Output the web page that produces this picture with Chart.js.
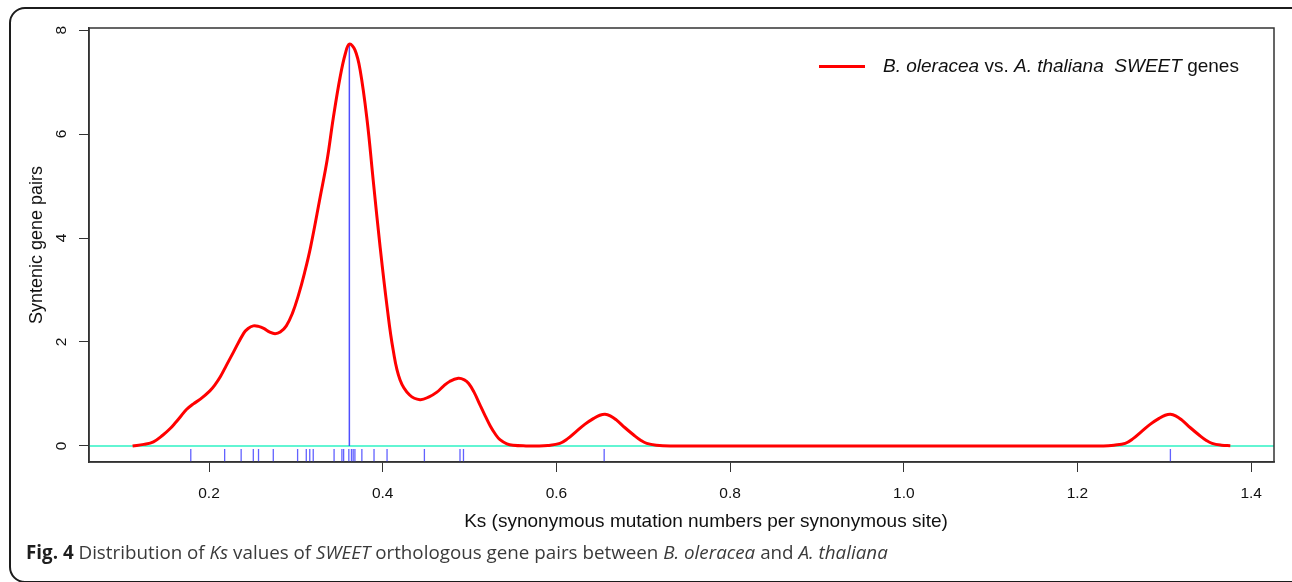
<!DOCTYPE html>
<html>
<head>
<meta charset="utf-8">
<script src="https://cdn.jsdelivr.net/npm/chart.js@4.4.1/dist/chart.umd.min.js"></script>
<style>
	body { margin: 0; background: #fff; }
	#wrap { position: relative; width: 1292px; height: 582px; overflow: hidden; }
	#data-set { position: absolute; left: 0; top: 0; }
	.frame { position: absolute; left: 9px; top: 7px; width: 1300px; height: 572px; border: 2px solid #1c1c1c; border-radius: 16px; pointer-events: none; }
	.xtitle { position: absolute; left: 706px; top: 510px; transform: translateX(-50%); font: 19px "Liberation Sans", Arial, sans-serif; line-height: 22px; color: #111; white-space: nowrap; }
	.legend-line { position: absolute; left: 819px; top: 64.5px; width: 46px; height: 3px; background: #ff0000; }
	.legend-text { position: absolute; left: 883px; top: 55px; font: 19px "Liberation Sans", Arial, sans-serif; line-height: 22px; color: #111; white-space: nowrap; }
	.caption { position: absolute; left: 26px; top: 540px; font: 18.8px "Open Sans", sans-serif; line-height: 24px; color: #3a3a3a; white-space: nowrap; }
	.caption b { color: #1e1e1e; }
</style>
</head>
<body>
<div id="wrap">
	<canvas id="data-set" width="1292" height="582"></canvas>
	<div class="frame"></div>
	<div class="legend-line"></div>
	<div class="legend-text"><i>B. oleracea</i> vs. <i>A. thaliana</i>&nbsp; <i>SWEET</i> genes</div>
	<div class="xtitle">Ks (synonymous mutation numbers per synonymous site)</div>
	<div class="caption"><b>Fig. 4</b> Distribution of <i>Ks</i> values of <i>SWEET</i> orthologous gene pairs between <i>B. oleracea</i> and <i>A. thaliana</i></div>
</div>
<script>
//Density curve (Ks value, density)
const ksX = [0.112, 0.125, 0.136, 0.147, 0.155, 0.161, 0.168, 0.174, 0.182, 0.190, 0.201, 0.207, 0.213, 0.220, 0.228, 0.240, 0.245, 0.251, 0.257, 0.263, 0.270, 0.276, 0.282, 0.289, 0.296, 0.303, 0.310, 0.317, 0.328, 0.336, 0.343, 0.351, 0.357, 0.3616, 0.368, 0.374, 0.382, 0.389, 0.397, 0.405, 0.412, 0.420, 0.431, 0.443, 0.454, 0.462, 0.470, 0.477, 0.487, 0.494, 0.499, 0.505, 0.512, 0.518, 0.524, 0.530, 0.535, 0.543, 0.550, 0.565, 0.577, 0.590, 0.604, 0.613, 0.623, 0.633, 0.643, 0.650, 0.656, 0.662, 0.669, 0.679, 0.689, 0.697, 0.704, 0.715, 0.731, 0.8, 0.9, 1.0, 1.1, 1.2, 1.23, 1.242, 1.255, 1.264, 1.274, 1.284, 1.294, 1.301, 1.307, 1.313, 1.320, 1.330, 1.340, 1.348, 1.355, 1.366, 1.376];
const density = [0.0, 0.03, 0.08, 0.21, 0.33, 0.44, 0.58, 0.70, 0.81, 0.90, 1.06, 1.18, 1.33, 1.55, 1.80, 2.17, 2.26, 2.31, 2.30, 2.26, 2.19, 2.16, 2.19, 2.31, 2.55, 2.90, 3.33, 3.83, 4.79, 5.50, 6.30, 7.10, 7.55, 7.73, 7.62, 7.23, 6.27, 5.12, 3.83, 2.68, 1.85, 1.27, 0.98, 0.89, 0.95, 1.03, 1.15, 1.24, 1.30, 1.27, 1.20, 1.04, 0.79, 0.58, 0.38, 0.22, 0.12, 0.04, 0.013, 0.0, 0.0, 0.01, 0.05, 0.14, 0.28, 0.42, 0.53, 0.59, 0.61, 0.58, 0.50, 0.35, 0.21, 0.11, 0.05, 0.015, 0.0, 0, 0, 0, 0, 0, 0.0, 0.015, 0.05, 0.14, 0.28, 0.42, 0.53, 0.59, 0.61, 0.58, 0.50, 0.35, 0.21, 0.11, 0.05, 0.015, 0.005];

//Ks of each gene pair (rug marks)
const rugKs = [0.179, 0.218, 0.237, 0.251, 0.257, 0.274, 0.302, 0.312, 0.316, 0.320, 0.344, 0.353, 0.355, 0.361, 0.364, 0.366, 0.368, 0.376, 0.390, 0.405, 0.448, 0.489, 0.493, 0.655, 1.307];

//Peak of the curve (vertical line)
const modeKs = 0.3616;
const modeDensity = 7.73;

//Axes
const xTicks = [0.2, 0.4, 0.6, 0.8, 1.0, 1.2, 1.4];
const yTicks = [0, 2, 4, 6, 8];
const xMin = 0.0618, xMax = 1.4263;
const yMin = -0.309, yMax = 8.04;
const rugTop = -0.058;

const curve = ksX.map((x, i) => ({ x: x, y: density[i] }));
const rug = [];
rugKs.forEach(k => {
	rug.push({ x: k, y: yMin });
	rug.push({ x: k, y: rugTop });
	rug.push({ x: k, y: null });
});

// box round the plot area
const boxPlugin = {
	id: "box",
	afterDatasetsDraw(chart) {
		const a = chart.chartArea;
		const ctx = chart.ctx;
		ctx.save();
		ctx.strokeStyle = "#333";
		ctx.lineWidth = 1.5;
		ctx.strokeRect(a.left, a.top, a.right - a.left, a.bottom - a.top);
		ctx.restore();
	}
};

const context = document.getElementById("data-set").getContext("2d");
const line = new Chart(context, {
	type: "line",
	data: {
		datasets: [{
			label: "B. oleracea vs. A. thaliana SWEET genes",
			data: curve,
			borderColor: "#ff0000",
			borderWidth: 3,
			pointRadius: 0,
			tension: 0.4,
			fill: false
		}, {
			label: "peak",
			data: [{ x: modeKs, y: 0 }, { x: modeKs, y: modeDensity }],
			borderColor: "rgba(60, 60, 255, 0.9)",
			borderWidth: 1.5,
			pointRadius: 0
		}, {
			label: "rug",
			data: rug,
			borderColor: "rgba(70, 70, 255, 0.85)",
			borderWidth: 1.3,
			pointRadius: 0,
			spanGaps: false
		}, {
			label: "zero",
			data: [{ x: xMin, y: 0 }, { x: xMax, y: 0 }],
			borderColor: "#2ef2c4",
			borderWidth: 1.5,
			pointRadius: 0
		}]
	},
	options: {
		responsive: false,
		animation: false,
		devicePixelRatio: 1,
		layout: { padding: { top: 28, right: 18, left: 0, bottom: 0 } },
		plugins: { legend: { display: false }, tooltip: { enabled: false } },
		scales: {
			x: {
				type: "linear",
				min: xMin,
				max: xMax,
				afterBuildTicks: scale => { scale.ticks = xTicks.map(v => ({ value: v })); },
				afterFit: scale => { scale.height = 582 - 462; },
				grid: { drawOnChartArea: false, drawTicks: true, tickLength: 10, color: "#333", lineWidth: 1 },
				border: { display: true, color: "#333", width: 1.5 },
				ticks: {
					padding: 12,
					color: "#111",
					font: { family: "'Liberation Sans', Arial", size: 15.5 },
					maxRotation: 0,
					autoSkip: false,
					callback: v => v.toFixed(1)
				}
			},
			y: {
				type: "linear",
				min: yMin,
				max: yMax,
				afterBuildTicks: scale => { scale.ticks = yTicks.map(v => ({ value: v })); },
				afterFit: scale => { scale.width = 89; },
				grid: { drawOnChartArea: false, drawTicks: true, tickLength: 10, color: "#333", lineWidth: 1 },
				border: { display: true, color: "#333", width: 1.5 },
				ticks: {
					padding: 13,
					color: "#111",
					crossAlign: "center",
					minRotation: 90,
					maxRotation: 90,
					font: { family: "'Liberation Sans', Arial", size: 15.5 },
					callback: v => String(v)
				},
				title: {
					display: true,
					text: "Syntenic gene pairs",
					color: "#111",
					padding: { top: 26, bottom: 0 },
					font: { family: "'Liberation Sans', Arial", size: 18 }
				}
			}
		}
	},
	plugins: [boxPlugin]
});
</script>
</body>
</html>
